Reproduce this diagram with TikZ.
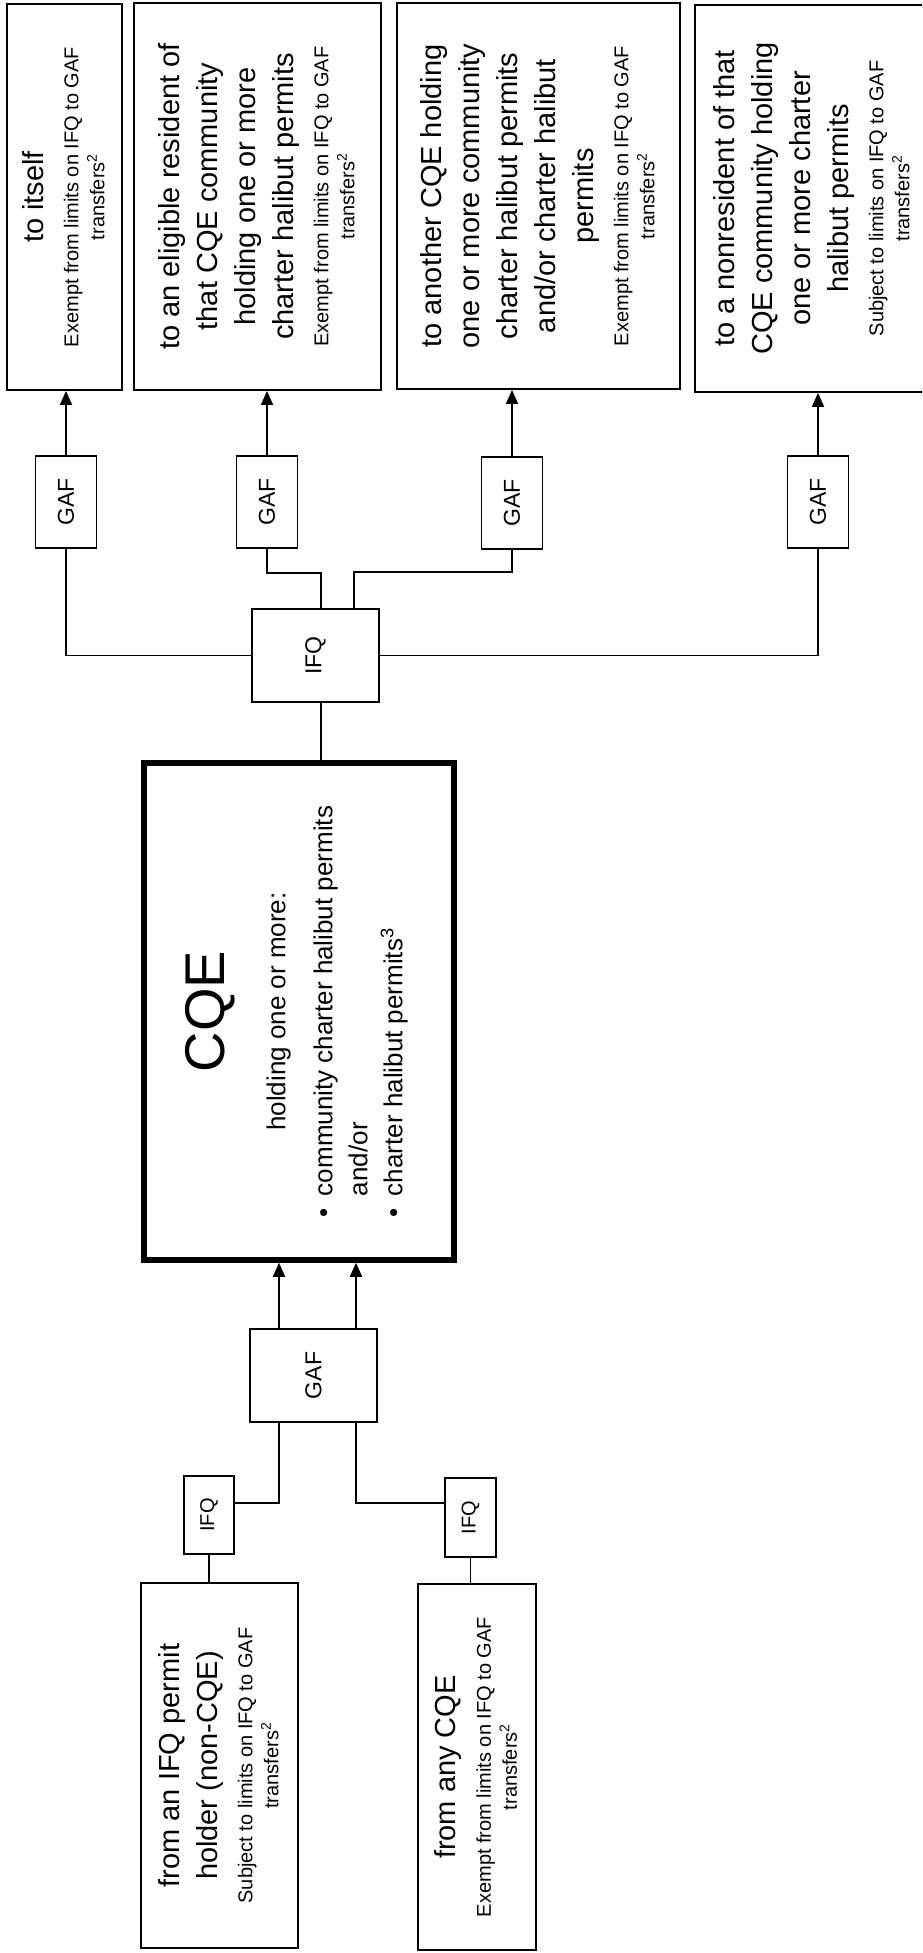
\documentclass[tikz,border=0pt]{standalone}
\usepackage{fontspec}
\setmainfont{Liberation Sans}
\usepackage{graphicx}
\usetikzlibrary{arrows.meta}

\newcommand{\bigf}{\fontsize{29}{38}\selectfont}
\newcommand{\smf}{\fontsize{20}{26}\selectfont}
\newcommand{\boxtext}[2]{\rotatebox{90}{\bigf\begin{tabular}{@{}c@{}}#1\\[-3pt]{\smf\begin{tabular}[t]{@{}c@{}}#2\end{tabular}}\end{tabular}}}
\newcommand{\gaff}{\fontsize{23}{27}\selectfont}
\newcommand{\ifqf}{\fontsize{20}{24}\selectfont}
\newcommand{\lims}{Exempt from limits on IFQ to GAF\\transfers\textsuperscript{2}}
\newcommand{\limsub}{Subject to limits on IFQ to GAF\\transfers\textsuperscript{2}}

\begin{document}
\begin{tikzpicture}[x=1pt,y=-1pt,
  box/.style={draw,line width=1.8pt,inner sep=0pt},
  conn/.style={line width=1.6pt},
  arr/.style={line width=1.6pt,-{Triangle[length=14pt,width=12pt]}}]
\useasboundingbox (0,0) rectangle (922,1953);
\clip (0,0) rectangle (922,1953);

% top destination boxes
\node[box,minimum width=115pt,minimum height=386pt] (B1) at (64.5,197)
  {\boxtext{to itself}{\lims}};
\node[box,minimum width=247pt,minimum height=387pt] (B2) at (257.5,196.5)
  {\boxtext{to an eligible resident of\\that CQE community\\holding one or more\\charter halibut permits}{\lims}};
\node[box,minimum width=283pt,minimum height=386pt] (B3) at (538.5,196)
  {\boxtext{to another CQE holding\\one or more community\\charter halibut permits\\and/or charter halibut\\permits}{\lims}};
\node[box,minimum width=235pt,minimum height=387pt] (B4) at (812.5,198.5)
  {\boxtext{to a nonresident of that\\CQE community holding\\one or more charter\\halibut permits}{\limsub}};

% GAF boxes
\node[box,minimum width=61pt,minimum height=92pt,font=\gaff] (GAF1) at (66,502) {\rotatebox{90}{GAF}};
\node[box,minimum width=61pt,minimum height=92pt,font=\gaff] (GAF2) at (267,502) {\rotatebox{90}{GAF}};
\node[box,minimum width=61pt,minimum height=92pt,font=\gaff] (GAF3) at (512,503) {\rotatebox{90}{GAF}};
\node[box,minimum width=61pt,minimum height=92pt,font=\gaff] (GAF4) at (818,502) {\rotatebox{90}{GAF}};

% IFQ top
\node[box,minimum width=127pt,minimum height=93pt,font=\gaff] (IFQ) at (315.5,655.5) {\rotatebox{90}{IFQ}};

% CQE
\node[draw,line width=5.5pt,inner sep=0pt,minimum width=310pt,minimum height=497pt] (CQE) at (299,1011.5)
  {\rotatebox{90}{\fontsize{26}{35}\selectfont\begin{tabular}{@{}c@{}}
   {\fontsize{56}{60}\selectfont CQE}\\[26pt]
   holding one or more:\\[12pt]
   \begin{tabular}[t]{@{}l@{\hspace{12pt}}l@{}}•&community charter halibut permits\\&and/or\\•&charter halibut permits\textsuperscript{3}\end{tabular}
  \end{tabular}}\hspace{29pt}};

% bottom GAF
\node[box,minimum width=127pt,minimum height=93pt,font=\gaff] (GAF5) at (313.5,1375.5) {\rotatebox{90}{GAF}};

% bottom IFQs
\node[box,minimum width=50pt,minimum height=78pt,font=\ifqf] (IFQL) at (209,1515) {\rotatebox{90}{IFQ}};
\node[box,minimum width=51pt,minimum height=79pt,font=\ifqf] (IFQR) at (470.5,1517.5) {\rotatebox{90}{IFQ}};

% source boxes
\node[box,minimum width=157pt,minimum height=365pt] (BL) at (219.5,1765.5)
  {\boxtext{from an IFQ permit\\holder (non-CQE)}{\limsub}};
\node[box,minimum width=118pt,minimum height=366pt] (BR) at (477,1767)
  {\boxtext{from any CQE}{\lims}};

% connectors top
\draw[arr] (GAF1.north) -- (GAF1.north |- B1.south);
\draw[arr] (GAF2.north) -- (GAF2.north |- B2.south);
\draw[arr] (GAF3.north) -- (GAF3.north |- B3.south);
\draw[arr] (GAF4.north) -- (GAF4.north |- B4.south);
\draw[conn] (GAF1.south) |- (IFQ.west);
\draw[conn] (IFQ.east) -| (GAF4.south);
\draw[conn] (GAF2.south) -- ++(0,24) -| ([xshift=5.5pt]IFQ.north);
\draw[conn] (GAF3.south) -- ++(0,22) -| ([xshift=38.5pt]IFQ.north);
\draw[conn] ([xshift=5.5pt]IFQ.south) -- ([xshift=5.5pt]IFQ.south |- CQE.north);

% connectors bottom
\draw[arr] ([xshift=-34.5pt]GAF5.north) -- ([xshift=-34.5pt]GAF5.north |- CQE.south);
\draw[arr] ([xshift=42.5pt]GAF5.north) -- ([xshift=42.5pt]GAF5.north |- CQE.south);
\draw[conn] ([xshift=-34.5pt]GAF5.south) |- ([yshift=12pt]IFQL.east);
\draw[conn] ([xshift=42.5pt]GAF5.south) |- ([yshift=14.5pt]IFQR.west);
\draw[conn] (IFQL.south) -- (IFQL.south |- BL.north);
\draw[conn] (IFQR.south) -- (IFQR.south |- BR.north);
\end{tikzpicture}
\end{document}
